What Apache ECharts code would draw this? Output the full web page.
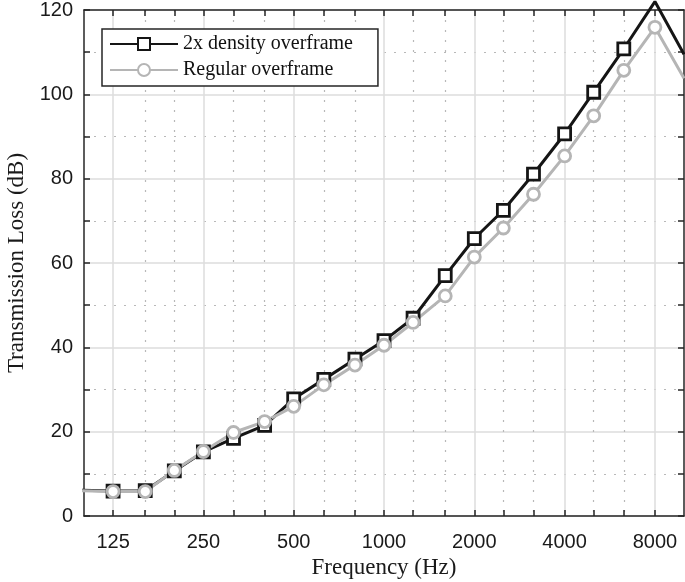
<!DOCTYPE html>
<html><head><meta charset="utf-8">
<script src="https://cdn.jsdelivr.net/npm/echarts@6/dist/echarts.min.js"></script>
<style>html,body{margin:0;padding:0;background:#fff}#c{width:685px;height:582px}</style>
</head><body><div id="c"></div>
<script>
// third-octave band centre frequencies (Hz); first/last points only carry the line beyond the axes
const freqs = [50,125,160,200,250,315,400,500,630,800,1000,1250,1600,2000,2500,3150,4000,5000,6300,8000,10000];
const dense = [6.6,5.9,6.0,10.7,15.2,18.4,21.5,27.8,32.4,37.2,41.6,46.9,57.0,65.8,72.5,81.1,90.6,100.5,110.8,122.0,109.5];
const regular = [6.6,5.8,5.8,10.8,15.3,19.8,22.4,26.0,31.1,35.8,40.5,45.9,52.2,61.4,68.3,76.3,85.4,94.9,105.7,115.9,103.8];
const labelFreqs = [125,250,500,1000,2000,4000,8000];
const minorFreqs = [160,200,315,400,630,800,1250,1600,2500,3150,5000,6300];
const allFreqs = [125,160,200,250,315,400,500,630,800,1000,1250,1600,2000,2500,3150,4000,5000,6300,8000];
const seriesNames = ['2x density overframe','Regular overframe'];
const yMax = 120;

const AX = '#262626';
const axLine = {show:true, lineStyle:{color:AX, width:1.5}};
const tickStyle = {color:AX, width:1.5};
const solidGrid = {color:'#dcdcdc', width:1.5};
const dotGrid = {color:'#b8b8b8', width:1.2, type:[2,8]};

function mk(vals){
  return freqs.map((f,i)=>{
    const o = {value:[f, vals[i]]};
    // markers only inside the plotted band range
    if (i===0 || i===freqs.length-1 || vals[i] > yMax) o.symbol='none';
    return o;
  });
}

const chart = echarts.init(document.getElementById('c'), null, {renderer:'canvas'});
chart.setOption({
  animation:false,
  backgroundColor:'#fff',
  grid:{left:84, top:10, right:1, bottom:66, containLabel:false, outerBoundsMode:'none'},
  xAxis:[
    {type:'log', logBase:10, min:100, max:10000, position:'bottom',
     axisLine:axLine,
     axisTick:{show:true, inside:true, length:6, customValues:labelFreqs, lineStyle:tickStyle},
     axisLabel:{show:true, customValues:labelFreqs, formatter:v=>String(Math.round(v)),
       fontFamily:'Liberation Sans', fontSize:20, color:'#1a1a1a', margin:16},
     splitLine:{show:true, lineStyle:solidGrid},
     name:'Frequency (Hz)', nameLocation:'middle', nameGap:40,
     nameTextStyle:{fontFamily:'Liberation Serif', fontSize:23, color:'#1a1a1a'}},
    {type:'log', logBase:10, min:100, max:10000, position:'bottom',
     axisLine:{show:false},
     axisTick:{show:true, inside:true, length:6, customValues:minorFreqs, lineStyle:tickStyle},
     axisLabel:{show:false},
     splitLine:{show:true, lineStyle:dotGrid}},
    {type:'log', logBase:10, min:100, max:10000, position:'top',
     axisLine:axLine,
     axisTick:{show:true, inside:true, length:6, customValues:allFreqs, lineStyle:tickStyle},
     axisLabel:{show:false},
     splitLine:{show:false}}
  ],
  yAxis:[
    {type:'value', min:0, max:yMax, interval:20, position:'left',
     axisLine:axLine,
     axisTick:{show:true, inside:true, length:6, lineStyle:tickStyle},
     minorTick:{show:true, splitNumber:2, length:6, lineStyle:tickStyle},
     minorSplitLine:{show:true, lineStyle:dotGrid},
     splitLine:{show:true, lineStyle:solidGrid},
     axisLabel:{fontFamily:'Liberation Sans', fontSize:20, color:'#1a1a1a', margin:11, padding:[4,0,0,0]},
     name:'Transmission Loss (dB)', nameLocation:'middle', nameGap:53,
     nameTextStyle:{fontFamily:'Liberation Serif', fontSize:23, color:'#1a1a1a'}},
    {type:'value', min:0, max:yMax, interval:20, position:'right',
     axisLine:axLine,
     axisTick:{show:true, inside:true, length:6, lineStyle:tickStyle},
     minorTick:{show:true, splitNumber:2, length:6, lineStyle:tickStyle},
     splitLine:{show:false}, axisLabel:{show:false}}
  ],
  legend:{
    left:102, top:29, orient:'vertical',
    padding:[5,25,6,7], itemGap:6, itemWidth:68, itemHeight:15,
    borderColor:AX, borderWidth:1.5, backgroundColor:'#fff',
    textStyle:{fontFamily:'Liberation Serif', fontSize:20, color:'#111'},
    data:seriesNames
  },
  series:[
    {name:seriesNames[0], type:'line', xAxisIndex:0, yAxisIndex:0, clip:false,
     data:mk(dense), showAllSymbol:true,
     symbol:'rect', symbolSize:12,
     lineStyle:{color:'#151515', width:3},
     itemStyle:{color:'#fff', borderColor:'#151515', borderWidth:2.8}},
    {name:seriesNames[1], type:'line', xAxisIndex:0, yAxisIndex:0, clip:false,
     data:mk(regular), showAllSymbol:true,
     symbol:'circle', symbolSize:12,
     lineStyle:{color:'#b5b5b5', width:3},
     itemStyle:{color:'#fff', borderColor:'#b5b5b5', borderWidth:2.8}}
  ]
});
</script></body></html>
